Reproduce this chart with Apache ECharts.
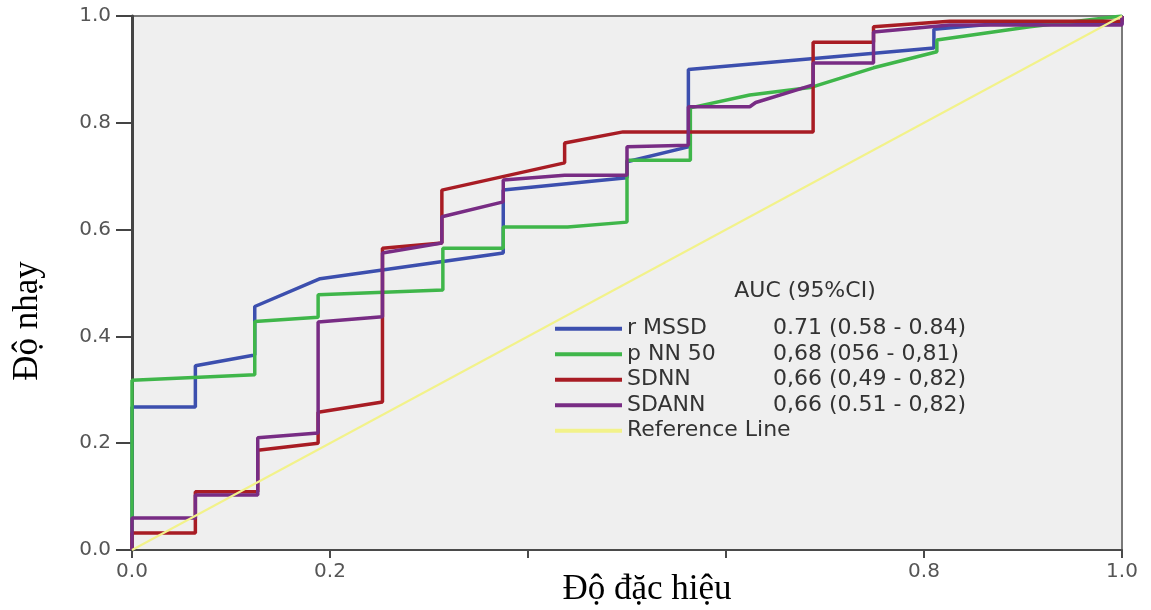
<!DOCTYPE html>
<html>
<head>
<meta charset="utf-8">
<script src="https://cdn.jsdelivr.net/npm/echarts@6/dist/echarts.min.js"></script>
<style>
html,body{margin:0;padding:0;background:#fff;}
#chart{width:1151px;height:610px;}
</style>
</head>
<body>
<div id="chart"></div>
<script>
// ---- data (1 - specificity, sensitivity) ----
const seriesNames = ['r MSSD', 'p NN 50', 'SDNN', 'SDANN', 'Reference Line'];
const aucLabels = ['0.71 (0.58 - 0.84)', '0,68 (056 - 0,81)', '0,66 (0,49 - 0,82)', '0,66 (0.51 - 0,82)', ''];

const rmssdX = [0, 0, 0.064, 0.064, 0.124, 0.124, 0.19, 0.375, 0.375, 0.5, 0.5, 0.562, 0.562, 0.81, 0.81, 0.87, 1, 1];
const rmssdY = [0, 0.268, 0.268, 0.345, 0.365, 0.456, 0.508, 0.556, 0.674, 0.697, 0.727, 0.755, 0.90, 0.94, 0.975, 0.985, 0.985, 1];

const pnn50X = [0, 0, 0.124, 0.124, 0.188, 0.188, 0.314, 0.314, 0.375, 0.375, 0.44, 0.5, 0.5, 0.564, 0.564, 0.624, 0.685, 0.749, 0.813, 0.813, 0.907, 1];
const pnn50Y = [0, 0.318, 0.328, 0.428, 0.436, 0.478, 0.487, 0.565, 0.565, 0.605, 0.605, 0.614, 0.73, 0.73, 0.828, 0.852, 0.866, 0.903, 0.933, 0.955, 0.98, 1];

const sdnnX = [0, 0, 0.064, 0.064, 0.127, 0.127, 0.188, 0.188, 0.253, 0.253, 0.313, 0.313, 0.437, 0.437, 0.496, 0.688, 0.688, 0.749, 0.749, 0.826, 1, 1];
const sdnnY = [0, 0.032, 0.032, 0.109, 0.109, 0.187, 0.2, 0.258, 0.277, 0.565, 0.575, 0.674, 0.725, 0.762, 0.783, 0.783, 0.951, 0.951, 0.98, 0.99, 0.99, 1];

const sdannX = [0, 0, 0.064, 0.064, 0.127, 0.127, 0.188, 0.188, 0.253, 0.253, 0.313, 0.313, 0.375, 0.375, 0.437, 0.5, 0.5, 0.562, 0.562, 0.624, 0.63, 0.688, 0.688, 0.749, 0.749, 0.826, 1, 1];
const sdannY = [0, 0.06, 0.06, 0.103, 0.103, 0.21, 0.219, 0.427, 0.437, 0.556, 0.575, 0.624, 0.652, 0.693, 0.702, 0.702, 0.755, 0.758, 0.83, 0.83, 0.838, 0.871, 0.912, 0.912, 0.97, 0.983, 0.983, 1];

const refX = [0, 1];
const refY = [0, 1];

const xTickLabels = ['0.0', '0.2', '', '', '0.8', '1.0'];
const yTickLabels = ['0.0', '0.2', '0.4', '0.6', '0.8', '1.0'];

const colors = ['#3c4fae', '#3fb64a', '#a81c24', '#782c84', '#f2f28a'];

// ---- build ----
function pairs(xs, ys) { return xs.map((x, i) => [x, ys[i]]); }
const curves = [pairs(rmssdX, rmssdY), pairs(pnn50X, pnn50Y), pairs(sdnnX, sdnnY), pairs(sdannX, sdannY), pairs(refX, refY)];

const chart = echarts.init(document.getElementById('chart'), null, {renderer: 'canvas'});

const labelFont = 'DejaVu Sans';
const option = {
  animation: false,
  backgroundColor: '#ffffff',
  grid: {
    left: 132, top: 16, right: 29, bottom: 60,
    show: true, backgroundColor: '#efefef', borderColor: '#7a7a7a', borderWidth: 2
  },
  xAxis: {
    type: 'value', min: 0, max: 1, interval: 0.2,
    axisLine: {show: true, onZero: false, lineStyle: {color: '#4a4a4a', width: 2}},
    axisTick: {show: true, length: 8, lineStyle: {color: '#4a4a4a', width: 2}},
    splitLine: {show: false},
    axisLabel: {
      margin: 12, color: '#555', fontFamily: labelFont, fontSize: 20,
      formatter: v => xTickLabels[Math.round(v / 0.2)]
    }
  },
  yAxis: {
    type: 'value', min: 0, max: 1, interval: 0.2,
    axisLine: {show: true, onZero: false, lineStyle: {color: '#444', width: 3}},
    axisTick: {show: true, length: 16, lineStyle: {color: '#444', width: 2}},
    splitLine: {show: false},
    axisLabel: {
      margin: 21, color: '#555', fontFamily: labelFont, fontSize: 20,
      formatter: v => yTickLabels[Math.round(v / 0.2)]
    }
  },
  legend: {
    orient: 'vertical', left: 550, top: 311,
    itemWidth: 67, itemHeight: 4, itemGap: 0, textGap: 10,
    icon: 'rect', selectedMode: false,
    data: seriesNames,
    textStyle: {
      fontFamily: labelFont, fontSize: 22, color: '#333', lineHeight: 25.5,
      rich: {
        n: {fontFamily: labelFont, fontSize: 22, color: '#333', width: 146, lineHeight: 25.5},
        v: {fontFamily: labelFont, fontSize: 22, color: '#333', lineHeight: 25.5},
        r: {fontFamily: labelFont, fontSize: 22, color: '#333', lineHeight: 25.5}
      }
    },
    formatter: name => {
      const i = seriesNames.indexOf(name);
      return aucLabels[i] ? '{n|' + name + '}{v|' + aucLabels[i] + '}' : '{r|' + name + '}';
    }
  },
  graphic: [
    {type: 'text', x: 805, y: 291, style: {text: 'AUC (95%CI)', align: 'center', verticalAlign: 'middle',
      font: '22px "DejaVu Sans"', fill: '#333'}},
    {type: 'text', x: 647, y: 590, style: {text: 'Độ đặc hiệu', align: 'center', verticalAlign: 'middle',
      font: '35px "Liberation Serif"', fill: '#000'}},
    {type: 'text', x: 28, y: 321, rotation: Math.PI / 2, style: {text: 'Độ nhạy', align: 'center', verticalAlign: 'middle',
      font: '35px "Liberation Serif"', fill: '#000'}}
  ],
  series: curves.map((d, i) => ({
    name: seriesNames[i], type: 'line', data: d,
    symbol: 'none', showSymbol: false, silent: true,
    z: 2 + i,
    itemStyle: {color: colors[i]},
    lineStyle: {color: colors[i], width: i === 4 ? 2 : 3.5}
  }))
};
chart.setOption(option);
</script>
</body>
</html>
